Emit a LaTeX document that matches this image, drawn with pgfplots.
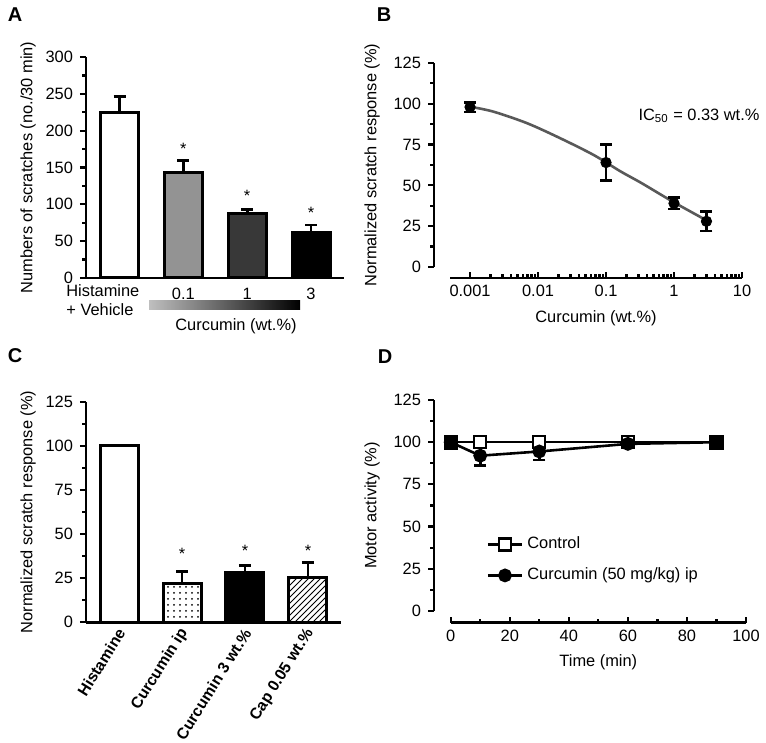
\documentclass[border=0pt]{standalone}
\usepackage{fontspec}
\setmainfont{Liberation Sans}
\usepackage{pgfplots}
\pgfplotsset{compat=1.18}
\usetikzlibrary{patterns}

\pgfplotsset{
  panel/.style={
    scale only axis, anchor=south west,
    axis lines=left,
    axis line style={line width=1.3pt, -},
    every tick/.style={black, line width=1.1pt},
    tick align=outside,
    major tick length=3pt, minor tick length=1.8pt,
    /pgf/number format/assume math mode=true,
    clip=false,
  },
  errs/.style={
    error bars/y dir=#1, error bars/y explicit,
    error bars/error bar style={line width=1.4pt, black},
    error bars/error mark options={rotate=90, line width=1.4pt, mark size=3pt, black},
  },
}

\begin{document}
\begin{tikzpicture}[x=0.5pt, y=0.5pt, font=\fontsize{8.2}{9.8}\selectfont]
\path[use as bounding box] (0,0) rectangle (766,743);

% ---------- A ----------
\begin{axis}[panel, at={(43pt,232.5pt)}, width=129pt, height=110.5pt,
  xmin=-0.525, xmax=3.517, ymin=0, ymax=300,
  ytick={0,50,...,300}, minor y tick num=1,
  xtick={0,1,2,3}, xticklabels={{},0.1,1,3},
  xticklabel style={anchor=north, inner sep=2pt},
  x tick style={draw=none},
  ylabel={Numbers of scratches (no./30 min)},
  ylabel style={yshift=-2pt}]
\addplot[ybar, bar shift=0pt, bar width=19pt, draw=black, line width=1.5pt, fill=white,
  errs=plus] coordinates {(0,225) +- (0,21)};
\addplot[ybar, bar shift=0pt, bar width=19pt, draw=black, line width=1.5pt, fill=gray!85,
  errs=plus] coordinates {(1,143) +- (0,16)};
\addplot[ybar, bar shift=0pt, bar width=19pt, draw=black, line width=1.5pt, fill=black!78,
  errs=plus] coordinates {(2,88) +- (0,5)};
\addplot[ybar, bar shift=0pt, bar width=19pt, draw=black, line width=1.5pt, fill=black,
  errs=plus] coordinates {(3,62) +- (0,10)};
\node at (axis cs:1,175) {*};
\node at (axis cs:2,111) {*};
\node at (axis cs:3,88) {*};
\end{axis}
\node[anchor=north west, align=left, inner sep=0pt] at (66,459) {Histamine\\+ Vehicle};
\shade[left color=black!25, right color=black] (149,433) rectangle (300,442);
\node at (236,417) {Curcumin (wt.\%)};

% ---------- B ----------
\begin{axis}[panel, xmode=log, at={(225pt,238pt)}, width=146pt, height=102pt,
  xmin=0.000507, xmax=10, ymin=0, ymax=125,
  ytick={0,25,...,125}, minor y tick num=1,
  xtick={0.001,0.01,0.1,1,10}, xticklabels={0.001,0.01,0.1,1,10},
  xtick align=inside,
  axis x line shift=5.5pt, axis y line shift=8pt,
  xlabel={Curcumin (wt.\%)},
  ylabel={Normalized scratch response (\%)}]
\addplot[black!65, line width=1.3pt, smooth, tension=0.5] coordinates {
  (0.001,98.2) (0.0022,95.2) (0.0069,88.1) (0.0212,78.9) (0.066,68.6)
  (0.163,58.6) (0.33,51.5) (1,39.6) (3,28.6)};
\addplot[only marks, mark=*, mark size=2.6pt, black, errs=both]
  coordinates {(0.001,98) +- (0,3) (0.1,64) +- (0,11) (1,39) +- (0,3.5) (3,28) +- (0,6)};
\node[anchor=west] at (axis cs:0.237,92.5) {IC\textsubscript{50} = 0.33 wt.\%};
\end{axis}

% ---------- C ----------
\begin{axis}[panel, at={(43pt,60.35pt)}, width=127.5pt, height=110.3pt,
  xmin=-0.524, xmax=3.524, ymin=0, ymax=125,
  ytick={0,25,...,125}, minor y tick num=1,
  xtick={0,1,2,3},
  xticklabels={Histamine,Curcumin ip,Curcumin 3 wt.\%,Cap 0.05 wt.\%},
  xticklabel style={xshift=3pt, yshift=2pt, rotate=58, anchor=east,
    font=\fontsize{7.9}{9.5}\selectfont\bfseries},
  x tick style={draw=none},
  ylabel={Normalized scratch response (\%)},
  ylabel style={yshift=-2pt}]
\addplot[ybar, bar shift=0pt, bar width=19pt, draw=black, line width=1.5pt, fill=white]
  coordinates {(0,100)};
\addplot[ybar, bar shift=0pt, bar width=19pt, draw=black, line width=1.5pt, pattern=dots,
  errs=plus] coordinates {(1,22) +- (0,7)};
\addplot[ybar, bar shift=0pt, bar width=19pt, draw=black, line width=1.5pt, fill=black,
  errs=plus] coordinates {(2,28) +- (0,4)};
\addplot[ybar, bar shift=0pt, bar width=19pt, draw=black, line width=1.5pt, pattern=north east lines,
  errs=plus] coordinates {(3,25.5) +- (0,8.5)};
\node at (axis cs:1,38.5) {*};
\node at (axis cs:2,40.5) {*};
\node at (axis cs:3,40.5) {*};
\end{axis}

% ---------- D ----------
\begin{axis}[panel, at={(225.35pt,66pt)}, width=147.65pt, height=105.5pt,
  xmin=0, xmax=100, ymin=0, ymax=125,
  xtick={0,20,...,100}, minor x tick num=1,
  xtick align=inside,
  ytick={0,25,...,125}, minor y tick num=1,
  axis x line shift=5.85pt, axis y line shift=8.35pt,
  xlabel={Time (min)}, ylabel={Motor activity (\%)},
  legend style={draw=none, fill=none, at={(0.1,0.39)}, anchor=north west,
    row sep=4pt, font=\fontsize{8.2}{9.8}\selectfont},
  legend cell align=left]
\addplot[black, line width=1.3pt, mark=square*, mark size=3pt,
  mark options={fill=white, solid, line width=1.1pt}]
  coordinates {(0,100) (10,100) (30,100) (60,100) (90,100)};
\addlegendentry{Control}
\addplot[black, line width=1.3pt, mark=*, mark size=2.8pt, errs=both]
  coordinates {(0,100) +- (0,0) (10,92) +- (0,6) (30,94.5) +- (0,5) (60,99) +- (0,0) (90,100) +- (0,0)};
\addlegendentry{Curcumin (50 mg/kg) ip}
\addplot[forget plot, only marks, black, mark=square*, mark size=3.4pt, mark indices={1,5}]
  coordinates {(0,100) (10,100) (30,100) (60,100) (90,100)};
\end{axis}

% panel letters
\node[font=\fontsize{10}{12}\selectfont\bfseries] at (15,728) {A};
\node[font=\fontsize{10}{12}\selectfont\bfseries] at (384,728) {B};
\node[font=\fontsize{10}{12}\selectfont\bfseries] at (15,387) {C};
\node[font=\fontsize{10}{12}\selectfont\bfseries] at (385,386) {D};
\end{tikzpicture}
\end{document}
